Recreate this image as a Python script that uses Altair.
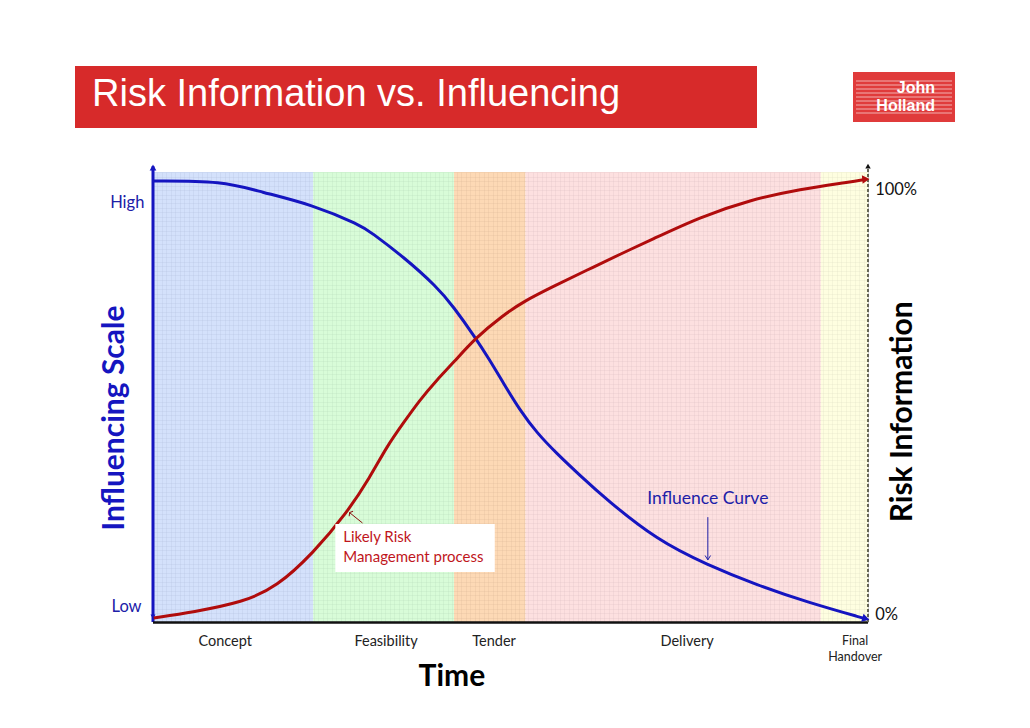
import altair as alt
import pandas as pd

# ---------------- data ----------------
phase_names = ["Concept", "Feasibility", "Tender", "Delivery", "Final Handover"]
phase_start = [0.0, 22.4, 42.1, 52.1, 93.4]
phase_end = [22.4, 42.1, 52.1, 93.4, 100.0]
phase_colors = ["#c9d9fa", "#cefbce", "#fccfa3", "#fcd8d8", "#fefed8"]
phase_label_x = [10.1, 32.6, 47.7, 74.7, 98.2]
phase_labels = ["Concept", "Feasibility", "Tender", "Delivery", "Final\nHandover"]

influence_t = [0.0, 9.8, 15.0, 22.4, 29.0, 30.4, 35.0, 39.7, 42.0, 45.0, 47.1,
               49.0, 51.3, 53.7, 56.5, 59.7, 63.5, 70.5, 77.5, 84.5, 91.5, 99.7]
influence_v = [98.0, 98.0, 95.6, 92.7, 88.2, 86.7, 81.2, 74.5, 70.1, 63.4, 58.2,
               53.1, 47.1, 42.0, 37.4, 32.6, 27.1, 18.2, 12.7, 8.2, 4.4, 0.7]

risk_t = [0.1, 5.6, 12.6, 17.3, 22.4, 27.1, 30.4, 32.7, 35.0, 37.3, 39.7, 42.0,
          45.0, 49.0, 51.8, 55.9, 60.7, 65.7, 69.5, 76.5, 83.5, 90.5, 97.5, 99.7]
risk_v = [0.9, 2.2, 4.4, 7.8, 15.3, 24.2, 32.3, 39.0, 44.2, 49.3, 53.8, 57.6,
          63.0, 68.2, 71.2, 74.5, 78.2, 82.0, 84.8, 90.0, 93.8, 96.2, 97.8, 98.4]

BLUE = "#1515c0"
DARKBLUE = "#2020a8"
RED = "#b00c0c"
BANNER_RED = "#d72a2a"
LOGO_RED = "#e03b3b"

# ---------------- scales / axes ----------------
SX = alt.Scale(domain=[0, 100], nice=False, zero=False)
SY = alt.Scale(domain=[0, 100], nice=False, zero=False)
grid_x = [i * 0.625 for i in range(161)]
grid_y = [i * 1.0 for i in range(101)]
AX = alt.Axis(grid=True, domain=False, ticks=False, labels=False, title=None,
              values=grid_x, gridColor="#556", gridOpacity=0.45, gridWidth=0.6)
AY = alt.Axis(grid=True, domain=False, ticks=False, labels=False, title=None,
              values=grid_y, gridColor="#556", gridOpacity=0.45, gridWidth=0.6)


def X(f):
    return alt.X(f, type="quantitative", scale=SX, axis=AX)


def Y(f):
    return alt.Y(f, type="quantitative", scale=SY, axis=AY)


def one(**kw):
    return pd.DataFrame({k: [v] for k, v in kw.items()})


def txt(x, y, s, **kw):
    return alt.Chart(one(x=x, y=y, s=s)).mark_text(**kw).encode(
        x=X("x"), y=Y("y"), text="s:N")


def seg(x1, y1, x2, y2, **kw):
    return alt.Chart(one(x=x1, y=y1, x2=x2, y2=y2)).mark_rule(**kw).encode(
        x=X("x"), y=Y("y"), x2="x2", y2="y2")


def head(x, y, shape, angle, size, color, filled=True, **kw):
    return alt.Chart(one(x=x, y=y)).mark_point(
        shape=shape, angle=angle, size=size, filled=filled, color=color,
        opacity=1, **kw).encode(x=X("x"), y=Y("y"))


layers = []

# phase bands
bands = pd.DataFrame({"name": phase_names, "start": phase_start, "end": phase_end,
                      "color": phase_colors, "lo": [0] * 5, "hi": [100] * 5})
layers.append(alt.Chart(bands).mark_rect(opacity=0.8).encode(
    x=X("start"), x2="end", y=Y("lo"), y2="hi",
    color=alt.Color("color:N", scale=None)))

# axes lines
layers.append(seg(0, 0, 0, 101.3, color=BLUE, strokeWidth=3))
layers.append(head(0, 101.0, "triangle-up", 0, 45, BLUE))
layers.append(head(0, 1.2, "triangle-down", 0, 25, BLUE))
layers.append(seg(0, -0.1, 100, -0.1, color="#111111", strokeWidth=2.5))
layers.append(seg(100, 0, 100, 101.3, color="#666655", strokeWidth=2, strokeDash=[3, 2]))
layers.append(head(100, 101.3, "triangle-up", 0, 30, "#111111"))

# curves
inf_df = pd.DataFrame({"t": influence_t, "v": influence_v})
risk_df = pd.DataFrame({"t": risk_t, "v": risk_v})
layers.append(alt.Chart(inf_df).mark_line(color=BLUE, strokeWidth=3, interpolate="basis")
              .encode(x=X("t"), y=Y("v")))
layers.append(alt.Chart(risk_df).mark_line(color=RED, strokeWidth=3, interpolate="basis")
              .encode(x=X("t"), y=Y("v")))
layers.append(head(influence_t[-1], influence_v[-1], "triangle-right", 16, 70, BLUE))
layers.append(head(risk_t[-1], risk_v[-1], "triangle-right", 355, 70, RED))

# annotation: Likely Risk Management process
layers.append(alt.Chart(one(x=25.5, x2=47.8, y=11.1, y2=21.8)).mark_rect(color="white").encode(
    x=X("x"), x2="x2", y=Y("y"), y2="y2"))
layers.append(txt(26.6, 17.8, "Likely  Risk", align="left", baseline="alphabetic",
                  font="Lato", fontSize=15, color="#c0161c"))
layers.append(txt(26.6, 13.3, "Management process", align="left", baseline="alphabetic",
                  font="Lato", fontSize=15, color="#c0161c"))
layers.append(seg(29.3, 22.0, 27.5, 24.3, color="#8a1010", strokeWidth=1))
layers.append(head(27.5, 24.3, "M -1 -0.6 L 0 0 L 1 -0.6", 128, 40, "#8a1010",
                   filled=False, strokeWidth=1))

# annotation: Influence Curve
layers.append(txt(77.6, 27.3, "Influence Curve", align="center", baseline="middle",
                  font="Lato", fontSize=17.5, color=DARKBLUE))
layers.append(seg(77.6, 23.3, 77.6, 13.8, color=DARKBLUE, strokeWidth=1))
layers.append(head(77.6, 13.8, "M -1 -1.6 L 0 0 L 1 -1.6", 0, 30, DARKBLUE,
                   filled=False, strokeWidth=1))

# axis labels
layers.append(txt(-3.6, 93.1, "High", align="center", baseline="middle",
                  font="Lato", fontSize=16.5, color=DARKBLUE))
layers.append(txt(-3.7, 3.3, "Low", align="center", baseline="middle",
                  font="Lato", fontSize=16.5, color=DARKBLUE))
layers.append(txt(101.0, 96.0, "100%", align="left", baseline="middle",
                  font="Lato", fontSize=16.5, color="#111111"))
layers.append(txt(101.0, 1.6, "0%", align="left", baseline="middle",
                  font="Lato", fontSize=16.5, color="#111111"))

# phase labels
for i in range(4):
    layers.append(txt(phase_label_x[i], -4.4, phase_labels[i], align="center",
                      baseline="middle", font="Lato", fontSize=14.5, color="#222222"))
layers.append(txt(phase_label_x[4], -4.2, phase_labels[4], align="center",
                  baseline="middle", font="Lato", fontSize=12.5, color="#222222",
                  lineBreak="\n", lineHeight=16))

# axis titles
layers.append(txt(41.8, -12.2, "Time", align="center", baseline="middle",
                  font="Lato", fontSize=30, fontWeight="bold", color="#000000"))
layers.append(txt(-5.3, 45.3, "Influencing Scale", align="center", baseline="middle",
                  angle=270, font="Lato", fontSize=30, fontWeight="bold", color=BLUE))
layers.append(txt(104.9, 46.7, "Risk Information", align="center", baseline="middle",
                  angle=270, font="Lato", fontSize=30, fontWeight="bold", color="#000000"))

# title banner (layout decoration, pixel placement)
dec = one(a=0)
layers.append(alt.Chart(dec).mark_rect(color=BANNER_RED).encode(
    x=alt.value(-78), x2=alt.value(604), y=alt.value(-106), y2=alt.value(-44)))
layers.append(alt.Chart(dec).mark_text(text="Risk Information vs. Influencing", align="left",
                                        baseline="alphabetic", font="Liberation Sans",
                                        fontSize=38, color="white").encode(
    x=alt.value(-61), y=alt.value(-66)))

# logo
layers.append(alt.Chart(dec).mark_rect(color=LOGO_RED).encode(
    x=alt.value(700), x2=alt.value(802), y=alt.value(-100), y2=alt.value(-50)))
for sy in [-91, -87, -83, -79, -75, -71, -67, -63, -59]:
    layers.append(alt.Chart(dec).mark_rule(color="white", strokeWidth=0.8, opacity=0.75).encode(
        x=alt.value(703), x2=alt.value(799), y=alt.value(sy)))
layers.append(alt.Chart(dec).mark_text(text="John", align="right", baseline="alphabetic",
                                        font="Liberation Sans", fontSize=16, fontWeight="bold",
                                        color="white").encode(x=alt.value(782), y=alt.value(-79)))
layers.append(alt.Chart(dec).mark_text(text="Holland", align="right", baseline="alphabetic",
                                        font="Liberation Sans", fontSize=16, fontWeight="bold",
                                        color="white").encode(x=alt.value(782), y=alt.value(-61)))

chart = alt.layer(*layers).properties(
    width=715, height=450,
    autosize=alt.AutoSizeParams(type="none"),
    padding={"left": 145, "top": 164, "right": 154, "bottom": 98},
    background="white",
).configure_view(stroke=None)

chart.save("out.html", embed_options={"renderer": "svg", "actions": False})
